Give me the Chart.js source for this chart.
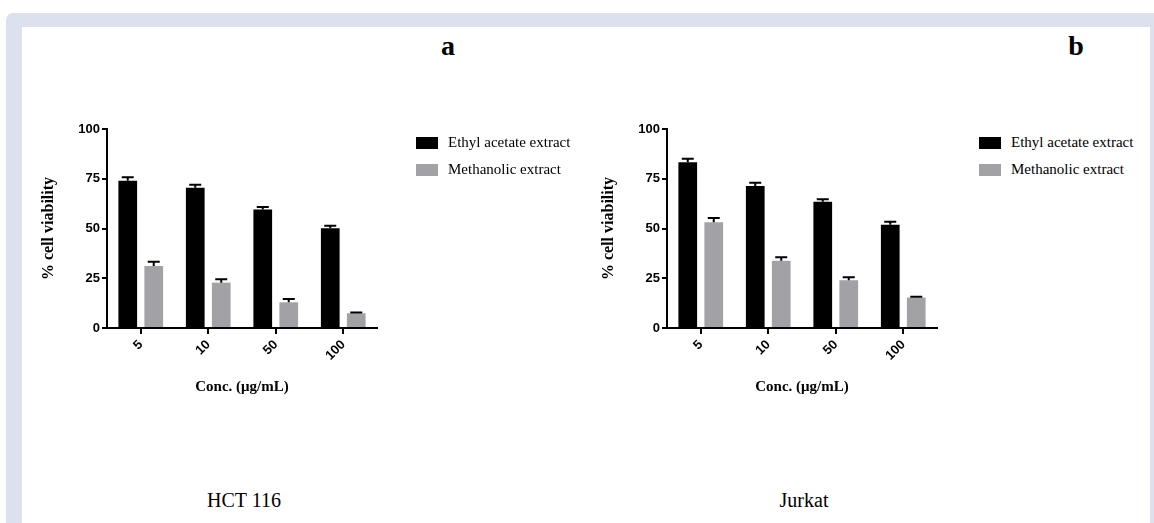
<!DOCTYPE html>
<html lang="en">
  <head>
    <meta charset="UTF-8" />
    <script src="https://cdn.jsdelivr.net/npm/chart.js@4.4.1/dist/chart.umd.min.js"></script>
    <style>
      html, body { margin: 0; padding: 0; background: #fff; }
      body { width: 1154px; height: 523px; position: relative; overflow: hidden; }
      #frame { position: absolute; left: 6px; top: 13px; width: 1160px; height: 530px; background: #dde1ee; border-top-left-radius: 7px; }
      #inner { position: absolute; left: 22px; top: 27px; width: 1128px; height: 520px; background: #fff; }
      .abs { position: absolute; font-family: "Liberation Serif", serif; color: #000; white-space: nowrap; }
      .letter { font-weight: bold; font-size: 28px; transform: translateX(-50%); }
      .caption { font-size: 20px; transform: translateX(-50%); }
      .chart { position: absolute; }
      .legend { position: absolute; width: 180px; font-family: "Liberation Serif", serif; font-size: 15px; white-space: nowrap; }
      .legend div { position: relative; height: 27px; }
      .legend span.box { position: absolute; left: 0; top: 0; width: 22px; height: 12px; }
      .legend span.txt { position: absolute; left: 32px; top: -3px; }
    </style>
  </head>
  <body>
    <div id="frame"></div>
    <div id="inner"></div>

    <div class="abs letter" style="left: 448px; top: 30px">a</div>
    <div class="abs letter" style="left: 1076px; top: 30px">b</div>

    <canvas class="chart" id="chartA" width="360" height="296" style="left: 30px; top: 100px"></canvas>
    <canvas class="chart" id="chartB" width="360" height="296" style="left: 590px; top: 100px"></canvas>

    <div class="legend" id="legendA" style="left: 416px; top: 137px"></div>
    <div class="legend" id="legendB" style="left: 979px; top: 137px"></div>

    <div class="abs caption" style="left: 244px; top: 489px">HCT 116</div>
    <div class="abs caption" style="left: 804px; top: 489px">Jurkat</div>

    <script>
      var concentrations = ["5", "10", "50", "100"];
      var seriesNames = ["Ethyl acetate extract", "Methanolic extract"];
      var seriesColors = ["#000000", "#a2a2a6"];

      // HCT 116
      var hctEthyl = [74, 70.5, 59.6, 50.1];
      var hctEthylErr = [1.8, 1.5, 1.2, 1.3];
      var hctMethanol = [31.2, 22.8, 12.9, 7.4];
      var hctMethanolErr = [2.1, 1.7, 1.7, 0.4];

      // Jurkat
      var jurkatEthyl = [83.3, 71.4, 63.5, 51.9];
      var jurkatEthylErr = [1.8, 1.6, 1.2, 1.5];
      var jurkatMethanol = [53.1, 33.8, 24, 15.3];
      var jurkatMethanolErr = [2.2, 1.8, 1.5, 0.4];

      var yTicks = [0, 25, 50, 75, 100];

      var errorBars = {
        id: "errorBars",
        afterDatasetsDraw: function (chart) {
          var ctx = chart.ctx;
          var y = chart.scales.y;
          ctx.save();
          ctx.strokeStyle = "#000";
          ctx.lineWidth = 2;
          chart.data.datasets.forEach(function (ds, i) {
            var meta = chart.getDatasetMeta(i);
            meta.data.forEach(function (bar, j) {
              var top = y.getPixelForValue(ds.data[j] + ds.errors[j]);
              ctx.beginPath();
              ctx.moveTo(bar.x, bar.y);
              ctx.lineTo(bar.x, top);
              ctx.moveTo(bar.x - 6, top);
              ctx.lineTo(bar.x + 6, top);
              ctx.stroke();
            });
          });
          ctx.restore();
        },
      };

      function makeChart(id, a, aErr, b, bErr) {
        return new Chart(document.getElementById(id), {
          type: "bar",
          data: {
            labels: concentrations,
            datasets: [
              { label: seriesNames[0], data: a, errors: aErr, backgroundColor: seriesColors[0] },
              { label: seriesNames[1], data: b, errors: bErr, backgroundColor: seriesColors[1] },
            ],
          },
          options: {
            responsive: false,
            animation: false,
            layout: { padding: { top: 29, right: 13, left: 0, bottom: 0 } },
            plugins: { legend: { display: false }, tooltip: { enabled: false } },
            categoryPercentage: 0.77,
            barPercentage: 0.72,
            scales: {
              x: {
                grid: { offset: false, drawOnChartArea: false, drawTicks: true, tickLength: 6, color: "#000", lineWidth: 2 },
                border: { display: true, color: "#000", width: 2 },
                ticks: {
                  color: "#000",
                  minRotation: 45,
                  maxRotation: 45,
                  padding: 3,
                  font: { family: "Liberation Sans", weight: "bold", size: 13 },
                },
                title: {
                  display: true,
                  text: "Conc. (μg/mL)",
                  color: "#000",
                  padding: { top: 0, bottom: 0 },
                  font: { family: "Liberation Serif", weight: "bold", size: 15 },
                },
                afterFit: function (s) { s.height = 68; },
              },
              y: {
                min: 0,
                max: 100,
                afterBuildTicks: function (s) { s.ticks = yTicks.map(function (v) { return { value: v }; }); },
                grid: { drawOnChartArea: false, drawTicks: true, tickLength: 5, color: "#000", lineWidth: 2 },
                border: { display: true, color: "#000", width: 2 },
                ticks: {
                  color: "#000",
                  padding: 2,
                  font: { family: "Liberation Sans", weight: "bold", size: 13 },
                },
                title: {
                  display: true,
                  text: "% cell viability",
                  color: "#000",
                  padding: { top: 9, bottom: 0 },
                  font: { family: "Liberation Serif", weight: "bold", size: 16 },
                },
                afterFit: function (s) { s.width = 77; },
              },
            },
          },
          plugins: [errorBars],
        });
      }

      function makeLegend(id) {
        var el = document.getElementById(id);
        seriesNames.forEach(function (name, i) {
          var row = document.createElement("div");
          row.innerHTML = '<span class="box" style="background:' + seriesColors[i] + '"></span><span class="txt">' + name + "</span>";
          el.appendChild(row);
        });
      }

      makeChart("chartA", hctEthyl, hctEthylErr, hctMethanol, hctMethanolErr);
      makeChart("chartB", jurkatEthyl, jurkatEthylErr, jurkatMethanol, jurkatMethanolErr);
      makeLegend("legendA");
      makeLegend("legendB");
    </script>
  </body>
</html>
